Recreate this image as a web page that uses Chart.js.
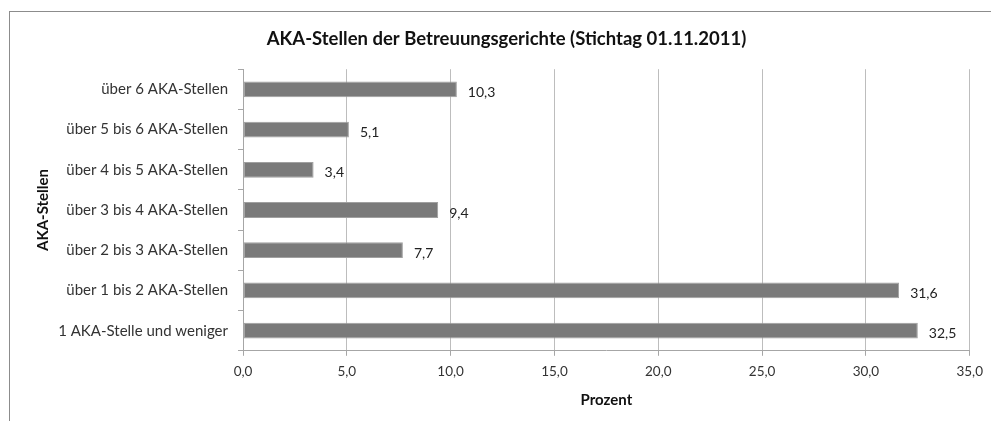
<!DOCTYPE html>
<html>
<head>
<meta charset="utf-8">
<script src="https://cdn.jsdelivr.net/npm/chart.js@4.4.1/dist/chart.umd.min.js"></script>
<style>
html,body{margin:0;padding:0;background:#fff;overflow:hidden;}
#wrap{position:relative;width:991px;height:421px;}
#frame{position:absolute;left:9px;top:11px;width:1200px;height:600px;border:1px solid #8c8c8c;box-sizing:border-box;}
#c{position:absolute;left:0;top:0;}
</style>
</head>
<body>
<div id="wrap"><div id="frame"></div><canvas id="c" width="991" height="421"></canvas></div>
<script>
const categories = [
  "über 6 AKA-Stellen",
  "über 5 bis 6 AKA-Stellen",
  "über 4 bis 5 AKA-Stellen",
  "über 3 bis 4 AKA-Stellen",
  "über 2 bis 3 AKA-Stellen",
  "über 1 bis 2 AKA-Stellen",
  "1 AKA-Stelle und weniger"
];
const values = [10.3, 5.1, 3.4, 9.4, 7.7, 31.6, 32.5];
const xTicks = [0, 5, 10, 15, 20, 25, 30, 35];
const titleText = "AKA-Stellen der Betreuungsgerichte (Stichtag 01.11.2011)";
const xTitle = "Prozent";
const yTitle = "AKA-Stellen";

const FONT = "Lato, 'Open Sans', sans-serif";
const fmt = v => v.toFixed(1).replace('.', ',');

const labelPlugin = {
  id: 'valueLabels',
  afterDatasetsDraw(chart) {
    const ctx = chart.ctx;
    const meta = chart.getDatasetMeta(0);
    ctx.save();
    ctx.font = "14px " + FONT;
    ctx.fillStyle = "#222";
    ctx.textAlign = "left";
    ctx.textBaseline = "middle";
    meta.data.forEach((bar, i) => {
      ctx.fillText(fmt(values[i]), bar.x + 11, bar.y + 3);
    });
    ctx.restore();
  }
};

new Chart(document.getElementById('c'), {
  type: 'bar',
  data: {
    labels: categories,
    datasets: [{
      data: values,
      backgroundColor: '#7a7a7a',
      borderColor: '#a0a0a0',
      borderWidth: 1,
      borderSkipped: false,
      barPercentage: 0.8,
      categoryPercentage: 0.49
    }]
  },
  options: {
    indexAxis: 'y',
    responsive: false,
    animation: false,
    devicePixelRatio: 1,
    layout: { padding: { left: 30, right: 8, top: 0, bottom: 12 } },
    plugins: {
      legend: { display: false },
      tooltip: { enabled: false },
      title: {
        display: true,
        text: titleText,
        color: '#111',
        font: { family: FONT, size: 18.5, weight: 'bold' },
        padding: { top: 28, bottom: 19 }
      }
    },
    scales: {
      x: {
        min: 0, max: 35,
        afterBuildTicks(scale) { scale.ticks = xTicks.map(v => ({ value: v })); },
        ticks: {
          callback: v => fmt(v),
          color: '#333',
          font: { family: FONT, size: 13.5 },
          padding: 8,
          maxRotation: 0
        },
        grid: { color: '#bdbdbd', lineWidth: 1, drawTicks: true, tickLength: 5, tickColor: '#a6a6a6' },
        border: { color: '#a6a6a6', width: 1 },
        title: {
          display: true, text: xTitle, color: '#111',
          font: { family: FONT, size: 15, weight: 'bold' },
          padding: { top: 3, bottom: 0 }
        }
      },
      y: {
        afterFit(scale) { scale.width = 213; },
        ticks: {
          color: '#333',
          font: { family: FONT, size: 15 },
          padding: 10
        },
        grid: { display: true, drawOnChartArea: false, drawTicks: true, tickLength: 5, color: '#a6a6a6', offset: true },
        border: { color: '#a6a6a6', width: 1 },
        title: {
          display: true, text: yTitle, color: '#111',
          font: { family: FONT, size: 15, weight: 'bold' },
          padding: { top: 4, bottom: 0 }
        }
      }
    }
  },
  plugins: [labelPlugin]
});
</script>
</body>
</html>
